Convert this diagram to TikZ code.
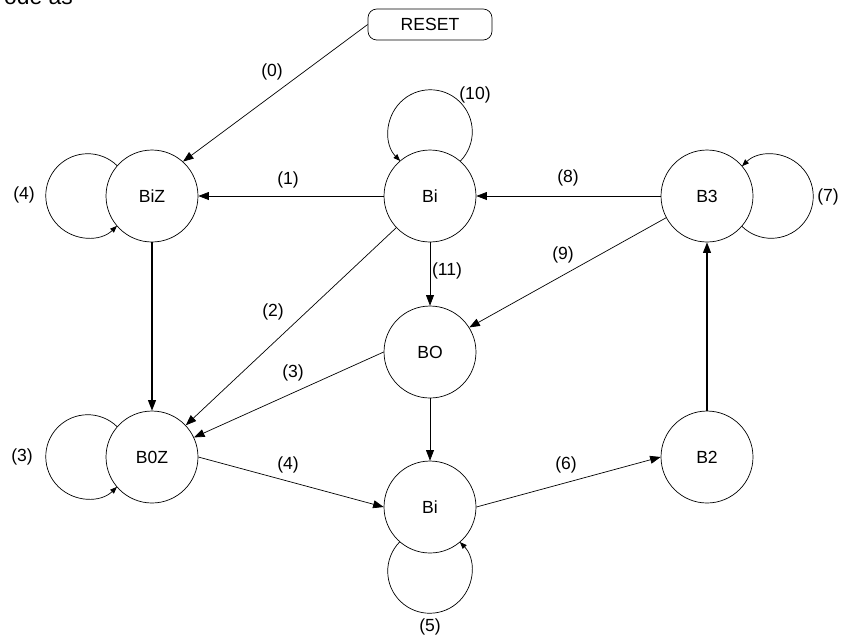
\documentclass[tikz,border=0pt]{standalone}
\usepackage{fontspec}
\setmainfont{Liberation Sans}
\usetikzlibrary{arrows.meta}

\begin{document}
\begin{tikzpicture}[x=0.02cm, y=0.02cm,
        state/.style={circle, draw, line width=0.4pt, minimum size=1.84cm, inner sep=0pt},
        trans/.style={-{Triangle[length=6pt, width=4.5pt]}, line width=0.4pt},
        selfloop/.style={-{Triangle[length=4pt, width=3pt]}, line width=0.4pt},
        lab/.style={inner sep=1pt}]
        \useasboundingbox (0,0) rectangle (851,-637);

        % Cut-off text at the top
        \node[anchor=base west, font=\fontsize{13}{15}\selectfont] (cut) at (-2,-4) {ode as};

        % Define nodes for the states
        \node at (430,-24.5) (reset) [draw, line width=0.4pt, rounded corners=5pt, minimum width=2.48cm, minimum height=0.62cm] {RESET};
        \node at (152,-196) (biz) [state] {BiZ};
        \node at (430,-196) (bi1) [state] {Bi};
        \node at (707,-196) (b3) [state] {B3};
        \node at (430,-352) (bo) [state] {BO};
        \node at (152,-457) (b0z) [state] {B0Z};
        \node at (430,-507) (bi2) [state] {Bi};
        \node at (707,-457) (b2) [state] {B2};

        % Draw transitions
        \draw[trans] (reset.west) -- (biz.48);
        \draw[trans] (bi1) -- (biz);
        \draw[trans] (bi1) -- (b0z);
        \draw[trans] (bi1) -- (bo);
        \draw[trans] (bo.west) -- (b0z.25);
        \draw[trans] (bo) -- (bi2);
        \draw[trans, line width=0.7pt] (biz) -- (b0z);
        \draw[trans] (b0z.east) -- (bi2.west);
        \draw[trans] (bi2.east) -- (b2.west);
        \draw[trans, line width=0.7pt] (b2) -- (b3);
        \draw[trans] (b3) -- (bi1);
        \draw[trans] (b3.208) -- (bo.32);

        % Self loops
        \draw[selfloop] (biz.139) arc[start angle=45.8, end angle=314.2, radius=0.84cm];
        \draw[selfloop] (b0z.139) arc[start angle=45.8, end angle=314.2, radius=0.84cm];
        \draw[selfloop] (bi1.49) arc[start angle=-44.2, end angle=224.2, radius=0.84cm];
        \draw[selfloop] (b3.319) arc[start angle=-134.2, end angle=134.2, radius=0.84cm];
        \draw[selfloop] (bi2.229) arc[start angle=135.8, end angle=404.2, radius=0.84cm];

        % Transition labels
        \node at (272,-72) (l0) [lab] {(0)};
        \node at (288,-180) (l1) [lab] {(1)};
        \node at (273,-312) (l2) [lab] {(2)};
        \node at (293,-373) (l3) [lab] {(3)};
        \node at (288,-465) (l4) [lab] {(4)};
        \node at (566,-465) (l6) [lab] {(6)};
        \node at (568,-178) (l8) [lab] {(8)};
        \node at (563,-255) (l9) [lab] {(9)};
        \node at (447,-271) (l11) [lab] {(11)};
        \node at (475,-95) (l10) [lab] {(10)};
        \node at (828,-197) (l7) [lab] {(7)};
        \node at (430,-627) (l5) [lab] {(5)};
        \node at (24,-195) (l4b) [lab] {(4)};
        \node at (22,-457) (l3b) [lab] {(3)};
    \end{tikzpicture}
\end{document}
